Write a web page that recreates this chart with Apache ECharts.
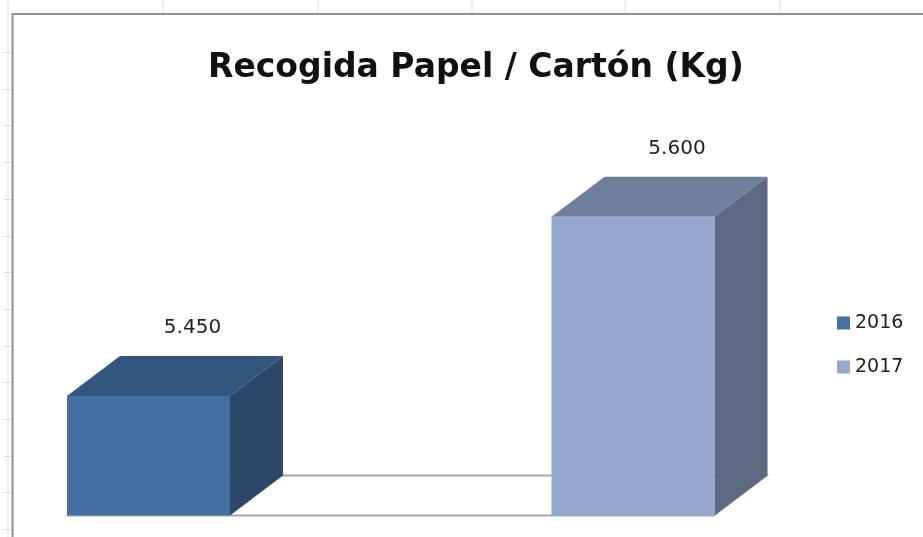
<!DOCTYPE html>
<html>
<head>
<meta charset="utf-8">
<script src="https://cdn.jsdelivr.net/npm/echarts@6/dist/echarts.min.js"></script>
<style>
html,body{margin:0;padding:0;background:#fff;}
#chart{width:923px;height:537px;}
</style>
</head>
<body>
<div id="chart"></div>
<script>
// ---- data ----
var titleText = 'Recogida Papel / Cartón (Kg)';
var categories = ['2016', '2017'];
var seriesNames = ['2016', '2017'];
var values2016 = [5450];
var values2017 = [5600];
var yMin = 5350;
var yMax = 5650;

// ---- style ----
var palette = [
  {front: '#44709f', top: '#34557e', side: '#2c4869', legend: '#4470a2'},
  {front: '#95a9cf', top: '#707f9b', side: '#5d6a81', legend: '#95a9cf'}
];
var DX = 53, DY = 40, BAR_RATIO = 0.3364;

function fmt(v) {
  var s = String(Math.round(v));
  return s.replace(/\B(?=(\d{3})+(?!\d))/g, '.');
}

function barRenderer(colors) {
  return function (params, api) {
    var x = api.value(0), v = api.value(1);
    var pTop = api.coord([x, v]);
    var pBase = api.coord([x, yMin]);
    var band = api.size([1, 0])[0];
    var w = band * BAR_RATIO;
    var x0 = pTop[0] - w / 2, x1 = pTop[0] + w / 2;
    var yT = pTop[1], yB = pBase[1];
    return {
      type: 'group',
      children: [
        {type: 'polygon', shape: {points: [[x0, yT], [x0 + DX, yT - DY], [x1 + DX, yT - DY], [x1, yT]]}, style: {fill: colors.top}},
        {type: 'polygon', shape: {points: [[x1, yT], [x1 + DX, yT - DY], [x1 + DX, yB - DY], [x1, yB]]}, style: {fill: colors.side}},
        {type: 'rect', shape: {x: x0, y: yT, width: w, height: yB - yT}, style: {fill: colors.front}},
        {type: 'text', x: pTop[0] + 44, y: yT - DY - 28,
         style: {text: fmt(v), fill: '#222', font: '20px "DejaVu Sans"', align: 'center', verticalAlign: 'middle'}}
      ]
    };
  };
}

function floorRenderer(params, api) {
  var band = api.size([1, 0])[0];
  var w = band * BAR_RATIO;
  var a = api.coord([0, yMin]);
  var b = api.coord([categories.length - 1, yMin]);
  var xl = a[0] - w / 2 + 1, xr = b[0] + w / 2 - 1, y = a[1];
  return {
    type: 'polygon',
    shape: {points: [[xl, y], [xr, y], [xr + DX, y - DY], [xl + DX, y - DY]]},
    style: {fill: '#fff', stroke: '#a8a8a8', lineWidth: 2}
  };
}

// decorative spreadsheet gridlines / chart frame
var deco = [];
[163, 318, 472, 625, 780].forEach(function (gx) {
  deco.push({type: 'line', shape: {x1: gx, y1: 0, x2: gx, y2: 13}, style: {stroke: '#dedede', lineWidth: 1}, silent: true});
});
deco.push({type: 'line', shape: {x1: 8, y1: 0, x2: 8, y2: 537}, style: {stroke: '#e2e2e2', lineWidth: 1}, silent: true});
for (var gy = 52; gy < 537; gy += 36.7) {
  deco.push({type: 'line', shape: {x1: 4, y1: Math.round(gy) + 0.5, x2: 11, y2: Math.round(gy) + 0.5}, style: {stroke: '#d8d8d8', lineWidth: 1}, silent: true});
}
deco.push({type: 'polyline', shape: {points: [[12.5, 537], [12.5, 14], [923, 14]]}, style: {stroke: '#8f8f8f', lineWidth: 2, fill: null}, silent: true});

var chart = echarts.init(document.getElementById('chart'), null, {renderer: 'canvas'});
chart.setOption({
  animation: false,
  backgroundColor: '#fff',
  title: {
    text: titleText, left: 203, top: 47,
    textStyle: {fontFamily: 'DejaVu Sans', fontWeight: 'bold', fontSize: 33, color: '#111'}
  },
  legend: {
    orient: 'vertical', left: 837, top: 313, padding: 0,
    itemWidth: 13, itemHeight: 13, itemGap: 24,
    icon: 'rect',
    data: seriesNames,
    textStyle: {fontFamily: 'DejaVu Sans', fontSize: 19, color: '#222', lineHeight: 20}
  },
  grid: {left: 148.5, right: 290, top: 157, bottom: 21.5, containLabel: false},
  xAxis: {type: 'category', data: categories, boundaryGap: false, show: false},
  yAxis: {type: 'value', min: yMin, max: yMax, show: false},
  graphic: deco,
  series: [
    {type: 'custom', name: 'floor', renderItem: floorRenderer, data: [[0, yMin]], z: 1, silent: true},
    {type: 'custom', name: seriesNames[0], renderItem: barRenderer(palette[0]), data: values2016.map(function (v) { return [0, v]; }), itemStyle: {color: palette[0].legend}, z: 2},
    {type: 'custom', name: seriesNames[1], renderItem: barRenderer(palette[1]), data: values2017.map(function (v) { return [1, v]; }), itemStyle: {color: palette[1].legend}, z: 3}
  ]
});
</script>
</body>
</html>
